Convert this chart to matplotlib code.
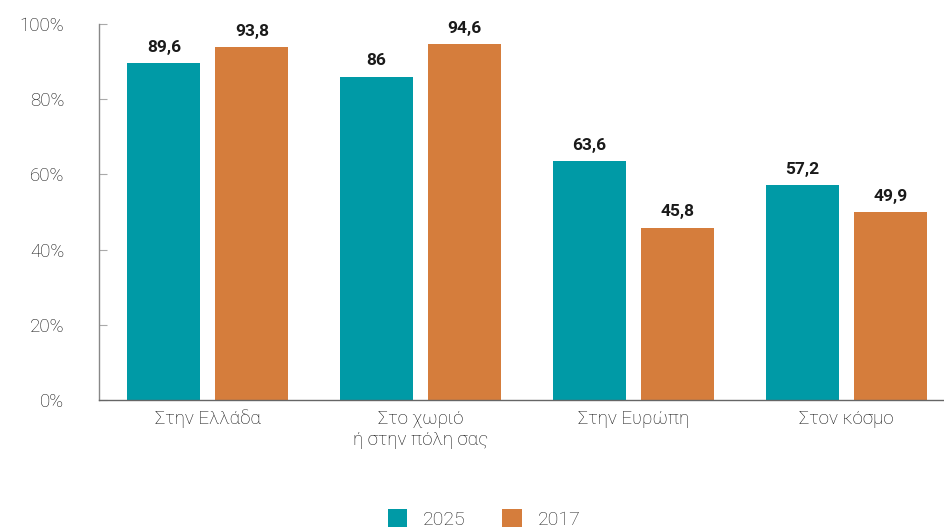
import matplotlib
matplotlib.use("Agg")
import matplotlib.pyplot as plt
import numpy as np
from matplotlib.patches import Patch

categories = ["Στην Ελλάδα", "Στο χωριό\nή στην πόλη σας", "Στην Ευρώπη", "Στον κόσμο"]
series_names = ["2025", "2017"]
values_2025 = [89.6, 86, 63.6, 57.2]
values_2017 = [93.8, 94.6, 45.8, 49.9]
y_ticks = [0, 20, 40, 60, 80, 100]
y_tick_labels = ["0%", "20%", "40%", "60%", "80%", "100%"]

colors = ["#009AA6", "#D57D3C"]
plt.rcParams['font.family'] = ['Roboto', 'DejaVu Sans']

fig = plt.figure(figsize=(9.45, 5.32), dpi=100)
ax = fig.add_axes([99/945, 132/532, 846/945, 376/532])

x = np.arange(len(categories))
w = 0.343
off = 0.207

def fmt(v):
    s = f"{v:.1f}".rstrip("0").rstrip(".")
    return s.replace(".", ",")

for vals, c, o in [(values_2025, colors[0], -off), (values_2017, colors[1], off)]:
    bars = ax.bar(x + o, vals, width=w, color=c, zorder=2)
    for b, v in zip(bars, vals):
        ax.annotate(fmt(v), (b.get_x() + b.get_width()/2, v), xytext=(0, 6),
                    textcoords="offset points", ha="center", va="bottom",
                    fontsize=12.5, fontweight="bold", color="#1a1a1a")

ax.set_xlim(-0.512, 3.464)
ax.set_ylim(0, 100)
ax.set_yticks(y_ticks)
ax.set_yticklabels(y_tick_labels, fontsize=13.5, color="#111111", fontweight="light")
ax.set_xticks(x)
ax.set_xticklabels(categories, fontsize=13.5, color="#111111", linespacing=1.25,
                   fontweight="light")
ax.tick_params(axis="x", length=0, pad=7)
ax.tick_params(axis="y", direction="in", length=6, color="#aaaaaa", pad=25)
for s in ["top", "right"]:
    ax.spines[s].set_visible(False)
ax.spines["left"].set_color("#888888")
ax.spines["bottom"].set_color("#666666")
ax.spines["left"].set_linewidth(1.0)
ax.spines["bottom"].set_linewidth(1.0)

handles = [Patch(facecolor=c, label=n) for c, n in zip(colors, series_names)]
fig.legend(handles=handles, loc="center", bbox_to_anchor=(484/945, 1 - 519/532),
           ncol=2, frameon=False, handlelength=1.0, handleheight=1.0,
           columnspacing=1.9, handletextpad=0.8, labelcolor="#222222",
           prop={"size": 14, "weight": "light"})

fig.savefig("out.png", dpi=100)
